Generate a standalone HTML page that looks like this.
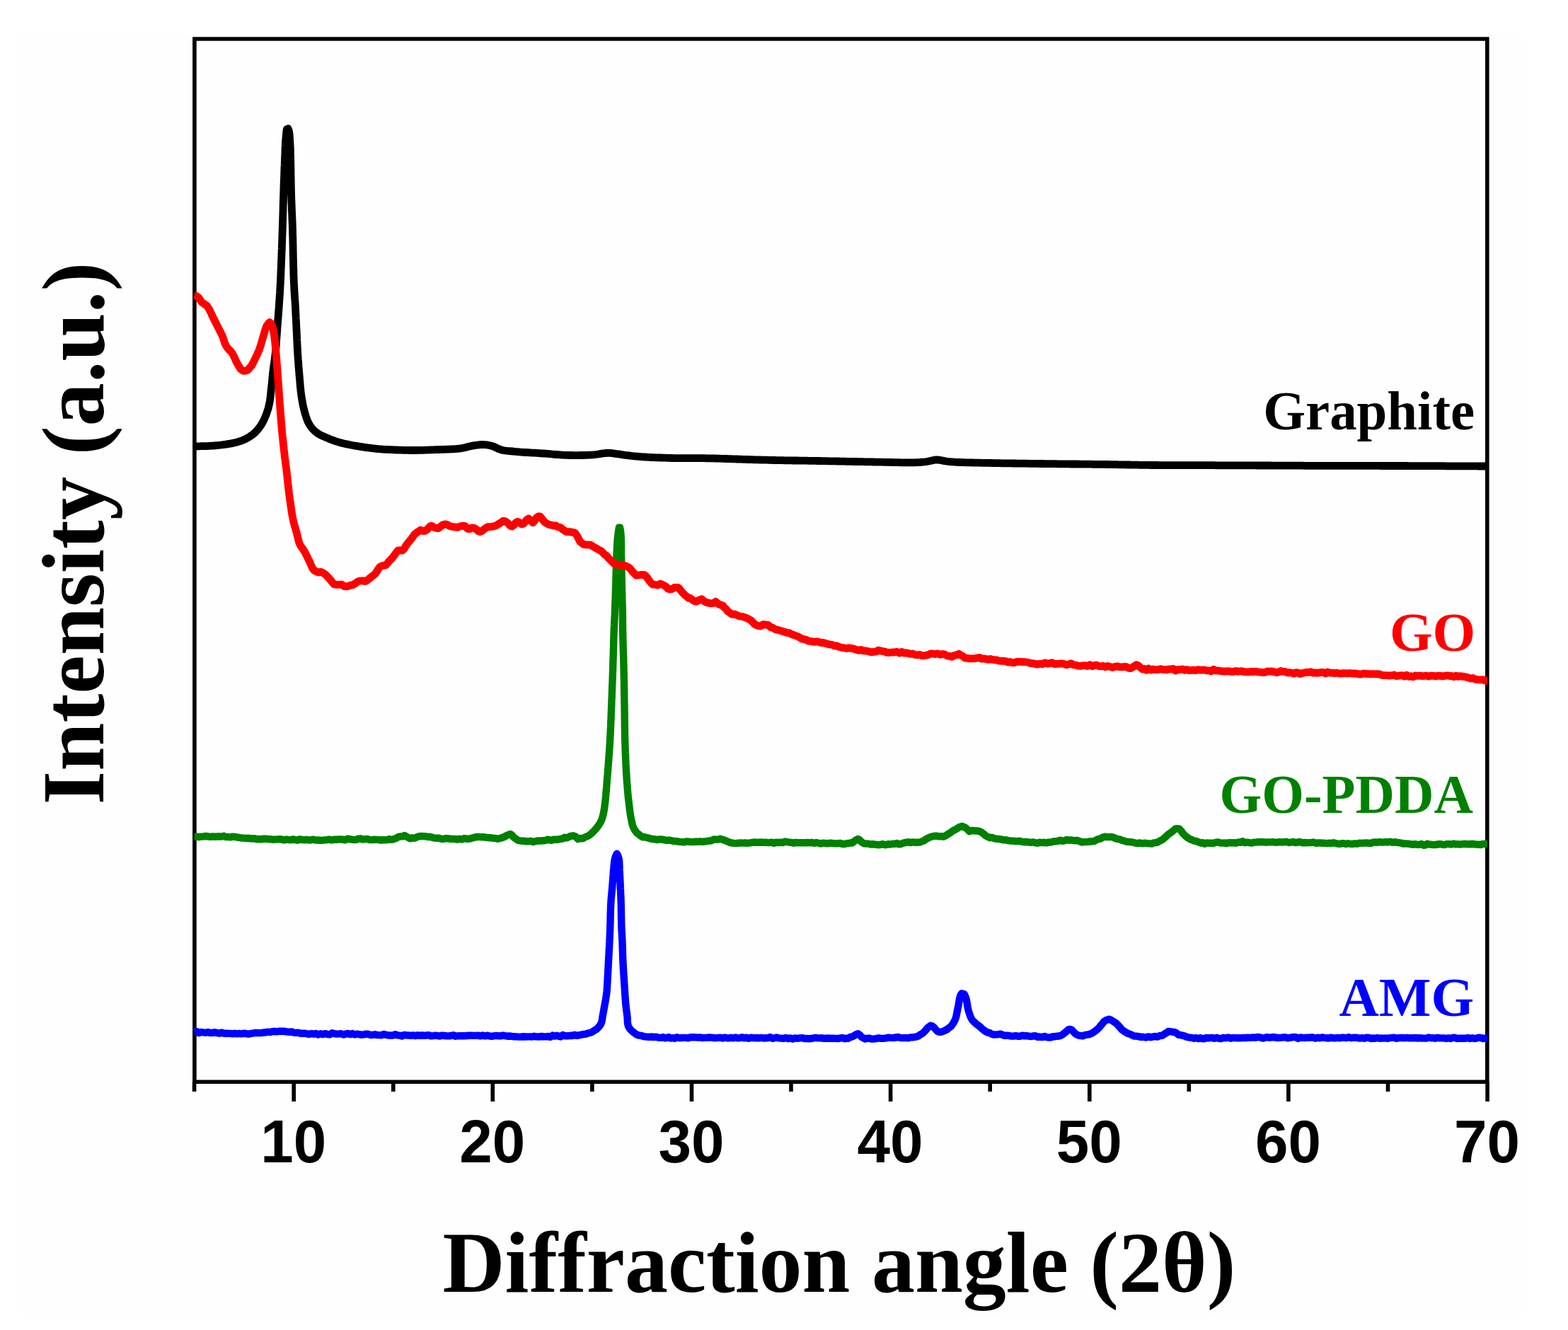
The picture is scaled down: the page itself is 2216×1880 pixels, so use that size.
<!DOCTYPE html>
<html><head><meta charset="utf-8"><title>XRD patterns</title>
<style>
html,body{margin:0;padding:0;background:#fff;}
svg{display:block;}
.tl{font-family:"Liberation Sans",Arial,sans-serif;font-weight:bold;font-size:86px;fill:#000;}
.ttl{font-family:"Liberation Serif","Times New Roman",serif;font-weight:bold;font-size:122px;fill:#000;}
.lg{font-family:"Liberation Serif","Times New Roman",serif;font-weight:bold;font-size:78px;}
</style></head><body>
<svg width="2216" height="1880" viewBox="0 0 2216 1880">
<rect x="0" y="0" width="2216" height="1880" fill="#ffffff"/>
<rect x="27" y="49" width="2126" height="1810" fill="#fefefe"/>
<path d="M274.9 1529.3V55H2101.8V1529.3Z" fill="none" stroke="#000" stroke-width="5.6"/>
<path d="M274.6 1529.5V1543M415.2 1529.5V1557M555.8 1529.5V1543M696.3 1529.5V1557M836.9 1529.5V1543M977.5 1529.5V1557M1118.0 1529.5V1543M1258.6 1529.5V1557M1399.2 1529.5V1543M1539.8 1529.5V1557M1680.3 1529.5V1543M1820.9 1529.5V1557M1961.5 1529.5V1543M2102.1 1529.5V1557" stroke="#000" stroke-width="5.6"/>
<path d="M274.6 631.0L277.0 630.9L281.5 630.8L284.6 630.7L288.1 630.7L291.8 630.6L295.5 630.4L299.1 630.2L302.5 630.0L305.7 629.7L309.0 629.4L312.3 629.0L315.6 628.6L318.8 628.2L322.0 627.7L325.1 627.2L328.0 626.6L331.7 625.8L335.2 624.9L338.6 623.9L341.8 622.8L345.0 621.5L347.9 620.1L350.8 618.5L353.5 616.8L356.1 615.0L358.6 613.0L360.9 610.9L363.1 608.6L365.1 606.2L367.0 603.7L368.8 601.1L370.4 598.5L371.8 595.9L373.2 593.2L374.4 590.4L375.6 587.5L376.8 584.3L377.9 581.0L379.0 577.6L379.9 574.1L380.7 570.5L381.3 567.3L381.8 563.9L382.2 560.6L382.6 557.2L382.9 553.7L383.3 550.1L383.6 547.1L384.0 543.9L384.3 540.7L384.6 537.5L384.9 534.3L385.2 531.0L385.5 527.8L385.9 524.6L386.3 521.4L386.7 518.3L387.2 515.2L387.6 512.0L388.1 508.9L388.5 505.7L388.9 502.4L389.3 499.0L389.6 496.1L389.8 493.1L390.1 490.1L390.3 487.0L390.5 483.9L390.7 480.7L390.9 477.6L391.2 474.4L391.4 471.2L391.6 468.1L391.8 465.0L392.0 461.9L392.3 458.8L392.5 455.7L392.8 452.6L393.0 449.5L393.3 446.3L393.5 443.2L393.7 440.2L394.0 437.1L394.2 434.0L394.4 431.0L394.6 427.9L394.8 424.9L395.0 422.0L395.2 419.2L395.4 416.3L395.6 413.3L395.7 410.3L395.9 407.1L396.1 403.7L396.3 400.0L396.4 397.6L396.5 395.1L396.7 392.5L396.8 389.7L396.9 386.9L397.0 384.0L397.1 381.0L397.3 377.9L397.4 374.8L397.5 371.6L397.6 368.4L397.8 365.1L397.9 361.8L398.0 358.6L398.1 355.3L398.3 352.0L398.4 348.8L398.5 345.5L398.6 342.4L398.7 339.2L398.8 336.1L398.9 333.1L399.0 330.2L399.1 327.4L399.2 324.6L399.3 322.0L399.4 318.5L399.5 315.1L399.6 311.8L399.7 308.6L399.8 305.5L399.9 302.4L400.0 299.4L400.1 296.4L400.1 293.4L400.2 290.4L400.3 287.3L400.4 284.2L400.5 281.0L400.6 277.8L400.7 274.8L400.8 271.7L400.9 268.6L401.0 265.4L401.1 262.2L401.2 258.9L401.3 255.7L401.5 252.4L401.6 249.1L401.7 245.9L401.8 242.7L401.9 239.6L402.0 236.5L402.2 233.5L402.3 230.6L402.4 227.7L402.5 225.0L402.6 221.6L402.8 218.3L402.9 215.0L403.0 211.8L403.1 208.8L403.3 205.8L403.4 202.9L403.6 200.1L403.8 197.5L404.0 195.0L404.4 190.5L404.8 186.0L405.3 182.5L407.0 181.9L408.0 184.0L408.6 186.2L409.0 188.9L409.3 192.1L409.5 195.8L409.8 200.0L409.9 202.0L410.0 204.3L410.2 206.8L410.3 209.4L410.4 212.2L410.4 215.1L410.5 218.1L410.6 221.3L410.7 224.6L410.7 228.0L410.8 231.4L410.9 234.9L410.9 238.4L411.0 241.9L411.0 245.4L411.1 249.0L411.2 252.5L411.2 255.9L411.3 259.4L411.3 262.7L411.4 266.0L411.5 269.1L411.5 272.1L411.6 275.0L411.7 277.8L411.8 281.3L411.9 284.7L412.1 287.9L412.2 291.0L412.3 294.0L412.4 297.0L412.5 299.9L412.7 302.8L412.8 305.8L412.9 308.8L413.0 311.9L413.2 315.1L413.3 318.5L413.4 322.0L413.5 324.6L413.6 327.4L413.6 330.2L413.7 333.1L413.8 336.1L413.9 339.2L413.9 342.4L414.0 345.5L414.1 348.8L414.1 352.0L414.2 355.3L414.3 358.6L414.3 361.8L414.4 365.1L414.5 368.4L414.6 371.6L414.6 374.8L414.7 377.9L414.8 381.0L414.9 384.0L414.9 386.9L415.0 389.7L415.1 392.5L415.2 395.1L415.3 397.6L415.4 400.0L415.6 403.7L415.8 407.1L415.9 410.3L416.1 413.3L416.3 416.3L416.5 419.2L416.7 422.0L416.9 424.9L417.1 427.9L417.3 431.0L417.5 434.0L417.6 437.1L417.8 440.2L417.9 443.2L418.1 446.3L418.2 449.5L418.4 452.6L418.5 455.7L418.7 458.8L418.8 461.9L419.0 465.0L419.2 468.1L419.3 471.2L419.4 474.3L419.6 477.4L419.7 480.5L419.9 483.5L420.0 486.6L420.2 489.7L420.3 492.8L420.5 495.9L420.7 499.0L420.9 502.1L421.1 505.2L421.3 508.4L421.6 511.6L421.8 514.7L422.0 517.9L422.3 521.0L422.5 524.1L422.8 527.1L423.0 530.1L423.3 533.0L423.6 536.4L423.9 539.7L424.1 543.0L424.4 546.2L424.7 549.3L425.0 552.4L425.4 555.5L425.8 558.6L426.3 561.9L426.8 565.1L427.4 568.3L427.9 571.5L428.6 574.6L429.3 577.7L430.1 580.7L431.0 584.0L432.0 587.3L433.0 590.5L434.2 593.7L435.4 596.6L436.9 599.4L438.6 602.1L440.5 604.7L442.5 607.0L444.7 609.2L447.1 611.3L449.6 613.0L452.3 614.6L455.2 616.0L458.2 617.3L461.2 618.6L464.1 619.8L467.4 621.2L470.7 622.4L474.0 623.6L477.4 624.6L481.1 625.7L484.0 626.5L487.1 627.2L490.3 627.9L493.5 628.5L496.8 629.2L500.1 629.8L503.4 630.3L506.6 630.9L509.8 631.4L512.9 631.9L516.1 632.4L519.3 632.8L522.4 633.2L525.6 633.6L528.9 634.0L532.1 634.3L535.1 634.6L538.2 634.8L541.3 635.1L544.5 635.3L547.6 635.4L550.7 635.6L553.8 635.7L556.9 635.9L560.0 636.0L563.3 636.1L566.6 636.2L569.8 636.3L573.1 636.4L576.3 636.4L579.5 636.5L582.8 636.5L586.0 636.5L589.2 636.5L592.4 636.4L595.5 636.4L598.7 636.3L601.9 636.2L605.1 636.1L608.5 635.9L612.0 635.8L614.8 635.7L617.7 635.6L620.8 635.5L623.9 635.4L627.1 635.3L630.3 635.2L633.6 635.1L636.7 634.9L639.9 634.8L642.9 634.6L645.8 634.4L648.5 634.1L651.0 633.8L654.4 633.2L657.6 632.6L660.5 631.8L663.3 631.1L666.1 630.4L669.0 629.9L672.2 629.4L675.4 629.0L678.6 628.7L681.7 628.5L684.7 628.6L688.1 628.9L691.4 629.5L694.6 630.3L697.7 631.2L701.1 632.7L704.3 634.4L708.0 635.8L710.9 636.5L714.1 637.0L717.5 637.4L721.1 637.7L724.9 638.0L728.8 638.4L731.4 638.6L734.2 638.9L737.0 639.1L740.0 639.3L743.0 639.5L746.1 639.7L749.3 639.9L752.4 640.1L755.6 640.2L758.7 640.4L761.8 640.6L764.9 640.8L767.8 641.0L771.0 641.2L774.1 641.5L777.2 641.7L780.2 642.0L783.3 642.3L786.3 642.5L789.3 642.7L792.4 643.0L795.4 643.1L798.5 643.3L801.6 643.4L804.6 643.5L807.7 643.5L810.8 643.6L814.0 643.6L817.2 643.6L820.4 643.5L823.5 643.5L826.6 643.4L829.6 643.3L832.5 643.2L835.3 643.1L838.0 642.9L841.8 642.5L845.5 642.0L849.0 641.4L852.4 640.9L855.6 640.5L858.7 640.3L862.1 640.4L865.1 640.7L868.2 641.1L871.7 641.6L874.5 641.9L877.4 642.4L880.4 642.8L883.6 643.3L886.9 643.7L890.4 644.2L894.0 644.6L897.7 645.0L900.3 645.2L903.0 645.4L905.8 645.6L908.7 645.8L911.7 646.0L914.7 646.2L917.8 646.3L920.9 646.5L924.1 646.6L927.3 646.8L930.6 646.9L933.8 647.0L937.0 647.1L940.2 647.2L943.4 647.3L946.5 647.4L949.6 647.5L952.7 647.6L955.7 647.6L958.8 647.7L961.8 647.7L964.9 647.7L967.9 647.7L971.0 647.7L974.1 647.7L977.1 647.7L980.2 647.7L983.2 647.7L986.3 647.7L989.4 647.7L992.4 647.7L995.5 647.7L998.5 647.8L1001.6 647.8L1004.7 647.9L1007.8 647.9L1010.9 648.0L1014.0 648.1L1017.1 648.2L1020.3 648.3L1023.4 648.4L1026.6 648.5L1029.7 648.6L1032.8 648.7L1035.9 648.8L1038.9 648.9L1041.9 649.0L1044.9 649.1L1047.8 649.2L1050.7 649.3L1053.5 649.4L1056.7 649.5L1059.8 649.6L1062.8 649.7L1065.6 649.8L1068.5 649.8L1071.3 649.9L1074.1 650.0L1077.1 650.1L1080.1 650.2L1083.2 650.2L1086.5 650.3L1090.0 650.4L1092.5 650.5L1095.0 650.5L1097.7 650.6L1100.4 650.6L1103.2 650.7L1106.0 650.7L1108.9 650.8L1111.8 650.8L1114.8 650.9L1117.9 650.9L1120.9 651.0L1124.0 651.0L1127.2 651.0L1130.3 651.1L1133.5 651.1L1136.7 651.2L1139.9 651.2L1143.0 651.3L1146.2 651.3L1149.4 651.4L1152.6 651.4L1155.7 651.5L1158.8 651.5L1161.9 651.6L1165.0 651.6L1168.0 651.7L1171.1 651.8L1174.3 651.8L1177.5 651.9L1180.7 651.9L1183.9 652.0L1187.1 652.1L1190.3 652.1L1193.6 652.2L1196.8 652.3L1200.1 652.3L1203.3 652.4L1206.5 652.5L1209.7 652.5L1212.9 652.6L1216.1 652.6L1219.2 652.7L1222.4 652.8L1225.4 652.8L1228.5 652.9L1231.5 652.9L1234.5 653.0L1237.4 653.1L1240.2 653.1L1243.1 653.2L1245.8 653.2L1249.3 653.3L1252.8 653.3L1256.3 653.4L1259.7 653.5L1263.1 653.6L1266.5 653.6L1269.7 653.7L1273.0 653.8L1276.1 653.8L1279.1 653.9L1282.1 653.9L1284.9 653.9L1287.6 653.9L1290.2 653.9L1292.6 653.8L1296.7 653.6L1300.3 653.5L1303.6 653.2L1306.8 652.9L1310.0 652.5L1313.6 651.8L1317.0 651.0L1320.4 650.2L1323.8 649.9L1327.1 650.1L1330.4 650.7L1333.7 651.4L1337.0 652.0L1340.0 652.4L1342.8 652.7L1345.9 652.9L1349.7 653.2L1351.8 653.3L1354.1 653.4L1356.6 653.5L1359.3 653.6L1362.1 653.7L1365.0 653.8L1368.1 653.9L1371.2 653.9L1374.5 654.0L1377.8 654.1L1381.2 654.1L1384.6 654.2L1388.0 654.3L1391.4 654.3L1394.9 654.4L1398.3 654.4L1401.7 654.5L1404.5 654.6L1407.4 654.6L1410.3 654.7L1413.3 654.7L1416.3 654.8L1419.3 654.8L1422.4 654.9L1425.5 654.9L1428.6 654.9L1431.7 655.0L1434.9 655.0L1438.1 655.1L1441.3 655.1L1444.5 655.2L1447.7 655.2L1450.9 655.2L1454.1 655.3L1457.3 655.3L1460.6 655.4L1463.8 655.4L1467.0 655.4L1470.2 655.5L1473.3 655.5L1476.5 655.6L1479.6 655.6L1482.7 655.6L1485.8 655.7L1489.0 655.7L1492.1 655.7L1495.2 655.8L1498.4 655.8L1501.5 655.8L1504.6 655.9L1507.8 655.9L1510.9 655.9L1514.0 656.0L1517.2 656.0L1520.3 656.0L1523.4 656.0L1526.5 656.1L1529.7 656.1L1532.8 656.1L1535.9 656.2L1539.0 656.2L1542.1 656.2L1545.2 656.3L1548.3 656.3L1551.4 656.3L1554.4 656.4L1557.5 656.4L1560.6 656.4L1563.6 656.5L1566.6 656.5L1569.6 656.6L1572.5 656.6L1575.5 656.7L1578.4 656.7L1581.3 656.8L1584.2 656.8L1587.2 656.9L1590.1 656.9L1593.0 657.0L1596.0 657.0L1598.9 657.1L1601.9 657.1L1604.9 657.2L1607.9 657.2L1610.9 657.3L1614.0 657.3L1617.1 657.4L1620.3 657.4L1623.5 657.4L1626.7 657.5L1630.0 657.5L1632.8 657.5L1635.6 657.5L1638.5 657.6L1641.3 657.6L1644.2 657.6L1647.2 657.6L1650.1 657.6L1653.1 657.6L1656.1 657.7L1659.1 657.7L1662.1 657.7L1665.2 657.7L1668.3 657.7L1671.4 657.7L1674.5 657.7L1677.6 657.7L1680.7 657.7L1683.8 657.7L1687.0 657.7L1690.1 657.7L1693.3 657.7L1696.5 657.7L1699.7 657.7L1702.8 657.7L1706.0 657.7L1709.2 657.7L1712.4 657.7L1715.6 657.7L1718.8 657.8L1722.0 657.8L1725.1 657.8L1728.3 657.8L1731.5 657.8L1734.6 657.8L1737.8 657.8L1740.8 657.8L1743.7 657.8L1746.7 657.8L1749.7 657.8L1752.7 657.9L1755.6 657.9L1758.6 657.9L1761.6 657.9L1764.6 657.9L1767.7 657.9L1770.7 657.9L1773.7 657.9L1776.7 658.0L1779.7 658.0L1782.8 658.0L1785.8 658.0L1788.8 658.0L1791.9 658.0L1794.9 658.0L1797.9 658.1L1801.0 658.1L1804.0 658.1L1807.1 658.1L1810.1 658.1L1813.2 658.1L1816.2 658.1L1819.3 658.2L1822.3 658.2L1825.3 658.2L1828.4 658.2L1831.4 658.2L1834.5 658.2L1837.5 658.2L1840.5 658.2L1843.6 658.3L1846.6 658.3L1849.6 658.3L1852.7 658.3L1855.7 658.3L1858.7 658.3L1861.7 658.3L1864.7 658.3L1867.8 658.3L1870.8 658.3L1873.8 658.3L1876.8 658.4L1879.8 658.4L1882.8 658.4L1885.8 658.4L1888.8 658.4L1891.8 658.4L1894.8 658.4L1897.8 658.4L1900.8 658.4L1903.8 658.4L1906.8 658.4L1909.8 658.4L1912.8 658.4L1915.8 658.4L1918.8 658.4L1921.8 658.4L1924.8 658.4L1927.8 658.4L1930.8 658.4L1933.9 658.4L1936.9 658.4L1939.9 658.4L1942.9 658.4L1946.0 658.4L1949.0 658.4L1952.0 658.5L1955.1 658.5L1958.1 658.5L1961.2 658.5L1964.3 658.5L1967.3 658.5L1970.4 658.5L1973.5 658.5L1976.5 658.5L1979.5 658.5L1982.5 658.5L1985.5 658.5L1988.5 658.5L1991.6 658.6L1994.6 658.6L1997.6 658.6L2000.7 658.6L2003.7 658.6L2006.8 658.6L2009.8 658.6L2012.9 658.6L2015.9 658.6L2019.0 658.7L2022.0 658.7L2025.1 658.7L2028.2 658.7L2031.3 658.7L2034.3 658.7L2037.4 658.7L2040.5 658.7L2043.6 658.8L2046.6 658.8L2049.7 658.8L2052.8 658.8L2055.9 658.8L2059.0 658.8L2062.0 658.8L2065.1 658.8L2068.2 658.9L2071.3 658.9L2074.4 658.9L2077.4 658.9L2080.5 658.9L2083.6 658.9L2086.7 658.9L2089.7 659.0L2092.8 659.0L2095.9 659.0L2098.9 659.0L2102.0 659.0" fill="none" stroke="#000000" stroke-width="10.8" stroke-linejoin="round" stroke-linecap="butt"/>
<path d="M274.6 1182.9L277.8 1182.7L281.1 1183.0L284.3 1182.6L287.5 1182.4L290.8 1182.0L294.0 1182.3L297.2 1182.8L300.5 1182.4L303.8 1182.7L307.1 1182.4L310.4 1182.5L313.4 1182.5L316.4 1181.8L319.4 1183.1L322.5 1183.1L325.5 1183.4L328.5 1182.6L331.6 1182.8L334.7 1183.5L337.9 1183.9L341.0 1184.5L344.2 1184.6L347.5 1185.0L350.8 1184.7L353.8 1185.3L356.8 1185.5L359.8 1185.1L362.9 1186.3L366.1 1186.0L369.2 1186.4L372.4 1185.7L375.6 1185.7L378.9 1186.0L382.1 1186.2L385.4 1186.7L388.6 1186.6L391.9 1186.4L395.1 1186.2L398.3 1186.5L401.5 1187.4L404.7 1186.5L407.9 1187.1L411.0 1187.2L414.2 1186.4L417.4 1187.1L420.6 1187.7L423.7 1186.3L426.9 1187.0L430.1 1187.2L433.2 1186.9L436.4 1187.5L439.6 1187.2L442.8 1186.6L445.9 1187.6L449.1 1187.5L452.3 1187.7L455.4 1187.9L458.6 1187.4L461.8 1187.2L465.0 1186.6L468.2 1187.4L471.4 1186.8L474.7 1186.8L477.9 1186.4L481.1 1186.5L484.4 1186.6L487.6 1187.4L490.8 1185.8L494.0 1186.0L497.1 1186.7L500.3 1187.2L503.4 1186.8L506.4 1185.6L509.4 1185.3L512.4 1186.6L515.7 1186.1L519.1 1185.9L522.4 1187.0L525.8 1187.1L529.1 1186.8L532.3 1186.9L535.5 1187.1L538.7 1187.7L541.7 1187.2L544.7 1187.2L547.5 1187.1L550.2 1186.0L552.8 1187.0L556.5 1186.1L560.0 1184.9L563.2 1182.8L566.3 1182.4L569.1 1182.3L571.7 1181.0L575.8 1183.3L579.8 1185.4L582.6 1184.3L585.7 1184.8L588.9 1183.4L592.4 1182.2L595.9 1181.9L598.7 1182.1L601.5 1182.2L604.4 1183.0L607.3 1182.8L610.4 1183.5L613.6 1184.6L616.8 1184.7L620.2 1184.6L623.0 1185.6L626.1 1186.0L629.3 1185.3L632.6 1185.1L636.0 1185.8L639.4 1185.9L642.8 1185.9L646.2 1186.7L649.4 1185.6L652.6 1186.6L655.5 1185.3L658.2 1185.4L660.6 1185.9L664.3 1185.5L667.4 1184.6L670.4 1183.6L674.0 1183.0L676.6 1182.9L679.6 1183.2L682.9 1183.1L686.3 1183.6L689.8 1184.1L693.4 1184.2L697.0 1184.9L700.4 1185.0L703.6 1185.8L706.5 1185.0L709.0 1184.3L712.6 1183.0L715.7 1181.2L718.5 1179.9L721.2 1179.0L723.5 1180.4L725.4 1182.9L727.6 1184.7L730.6 1186.8L732.5 1187.9L734.8 1188.4L737.4 1188.7L740.3 1188.7L743.4 1189.3L746.7 1189.2L750.1 1188.8L753.6 1190.1L757.1 1189.1L760.6 1188.5L764.1 1188.5L767.6 1188.2L770.8 1188.1L773.9 1186.6L776.8 1187.4L779.5 1187.8L781.8 1186.7L785.8 1186.7L789.5 1186.5L792.8 1185.7L795.6 1185.5L797.9 1183.7L800.9 1184.4L803.5 1183.3L806.6 1181.8L809.5 1181.3L813.1 1182.3L816.8 1186.0L820.2 1185.0L823.8 1185.2L827.3 1183.1L830.7 1181.9L834.0 1179.8L837.0 1176.9L839.8 1174.2L842.4 1171.4L844.7 1168.3L846.7 1165.5L848.5 1162.6L850.0 1159.6L851.1 1156.5L852.0 1153.4L852.8 1150.0L853.4 1146.8L854.0 1143.6L854.5 1140.0L855.0 1136.0L855.3 1133.4L855.6 1130.7L855.9 1127.8L856.2 1124.7L856.4 1121.5L856.7 1118.2L857.0 1114.9L857.3 1111.4L857.5 1107.9L857.8 1104.4L858.1 1100.9L858.3 1098.1L858.6 1095.2L858.8 1092.2L859.0 1089.2L859.3 1086.2L859.5 1083.1L859.8 1080.0L860.0 1076.8L860.3 1073.6L860.5 1070.4L860.7 1067.2L861.0 1064.0L861.2 1060.8L861.4 1057.6L861.6 1054.5L861.8 1051.3L862.0 1048.2L862.2 1045.1L862.3 1042.0L862.5 1038.9L862.7 1035.8L862.8 1032.7L862.9 1029.6L863.1 1026.5L863.2 1023.4L863.3 1020.2L863.5 1017.1L863.6 1014.0L863.7 1010.9L863.8 1007.8L863.9 1004.7L864.1 1001.6L864.2 998.5L864.3 995.4L864.4 992.3L864.5 989.2L864.7 986.1L864.8 983.0L864.9 979.9L865.0 976.8L865.1 973.7L865.2 970.6L865.3 967.5L865.5 964.4L865.6 961.3L865.7 958.2L865.8 955.1L865.9 952.0L866.0 948.9L866.1 945.8L866.2 942.7L866.3 939.6L866.4 936.4L866.5 933.1L866.6 929.9L866.7 926.6L866.8 923.3L866.9 920.0L867.0 916.7L867.1 913.5L867.2 910.2L867.2 907.1L867.3 904.0L867.4 901.0L867.5 898.1L867.6 895.3L867.7 892.6L867.8 890.0L867.9 886.6L868.1 883.5L868.2 880.5L868.4 877.7L868.5 875.0L868.6 872.2L868.8 869.2L868.9 866.0L869.0 863.2L869.1 860.3L869.2 857.3L869.3 854.3L869.4 851.2L869.6 848.1L869.7 844.9L869.8 841.7L869.9 838.4L870.0 835.2L870.1 831.9L870.2 828.6L870.3 825.6L870.4 822.5L870.5 819.3L870.5 816.1L870.6 812.8L870.7 809.5L870.8 806.3L870.9 803.0L871.0 799.7L871.1 796.5L871.2 793.4L871.3 790.3L871.4 787.3L871.5 784.5L871.6 781.8L871.8 778.3L871.9 774.8L872.1 771.6L872.3 768.4L872.5 765.3L872.7 762.4L873.0 759.6L873.3 757.0L873.8 753.0L874.4 748.9L874.9 745.8L876.1 745.8L876.7 748.9L877.2 753.0L877.6 757.0L877.8 759.6L877.9 762.4L878.0 765.3L878.0 768.4L878.0 771.6L878.0 774.9L878.0 778.3L878.0 781.8L878.0 784.5L878.1 787.3L878.2 790.3L878.2 793.4L878.3 796.5L878.3 799.7L878.4 803.0L878.4 806.3L878.5 809.6L878.6 812.8L878.6 816.1L878.7 819.3L878.8 822.5L878.8 825.6L878.9 828.6L879.0 831.9L879.1 835.2L879.2 838.4L879.3 841.7L879.3 844.9L879.4 848.1L879.5 851.2L879.6 854.3L879.7 857.3L879.8 860.3L879.8 863.2L879.9 866.0L879.9 869.2L880.0 872.2L880.0 875.0L880.0 877.7L880.0 880.6L880.0 883.5L880.0 886.6L880.1 890.0L880.1 892.6L880.2 895.3L880.3 898.1L880.3 901.0L880.4 904.0L880.5 907.1L880.6 910.2L880.7 913.5L880.8 916.7L880.9 920.0L881.0 923.3L881.1 926.6L881.2 929.9L881.3 933.1L881.3 936.4L881.4 939.6L881.5 942.7L881.6 945.8L881.6 948.9L881.7 952.0L881.8 955.1L881.8 958.2L881.9 961.3L882.0 964.4L882.0 967.5L882.1 970.6L882.1 973.7L882.2 976.8L882.2 979.9L882.3 983.0L882.3 986.1L882.4 989.2L882.4 992.3L882.5 995.4L882.5 998.5L882.6 1001.6L882.6 1004.7L882.7 1007.8L882.7 1010.9L882.7 1014.0L882.8 1017.1L882.8 1020.2L882.8 1023.4L882.9 1026.5L882.9 1029.6L883.0 1032.7L883.0 1035.8L883.1 1038.9L883.1 1042.0L883.2 1045.1L883.3 1048.2L883.4 1051.3L883.5 1054.5L883.6 1057.6L883.7 1060.8L883.8 1064.0L884.0 1067.2L884.1 1070.4L884.2 1073.6L884.4 1076.8L884.5 1080.0L884.7 1083.1L884.8 1086.2L885.0 1089.2L885.2 1092.2L885.3 1095.2L885.5 1098.1L885.7 1100.9L885.9 1104.4L886.2 1107.8L886.5 1111.2L886.8 1114.6L887.0 1117.8L887.3 1121.1L887.6 1124.2L887.9 1127.3L888.3 1130.3L888.6 1133.2L888.9 1136.0L889.3 1139.3L889.7 1142.6L890.0 1145.7L890.5 1148.7L890.9 1151.6L891.4 1154.4L891.9 1157.1L892.7 1160.9L893.4 1164.6L894.5 1168.0L895.9 1171.2L897.7 1174.2L899.9 1177.2L902.5 1179.1L905.6 1181.7L908.2 1183.2L911.4 1183.3L915.0 1184.2L918.7 1185.3L922.3 1186.1L925.5 1186.2L928.2 1187.1L931.0 1186.6L933.8 1186.3L936.2 1186.6L939.1 1187.4L942.5 1187.9L946.2 1187.6L949.9 1188.6L953.7 1189.0L957.4 1189.3L960.3 1189.9L963.3 1190.1L966.5 1190.4L969.7 1189.5L973.1 1189.6L976.4 1190.1L979.8 1190.0L983.2 1189.8L986.5 1189.8L989.7 1189.4L992.8 1189.9L995.7 1189.5L998.5 1189.2L1002.1 1188.5L1005.5 1188.2L1008.8 1186.5L1012.0 1186.6L1015.0 1186.6L1017.8 1185.7L1020.5 1186.6L1024.2 1187.8L1027.5 1189.1L1031.5 1191.0L1033.9 1191.3L1036.6 1191.9L1039.5 1192.1L1042.6 1191.8L1045.8 1191.4L1049.2 1191.6L1052.7 1191.5L1056.3 1191.7L1059.9 1191.4L1063.5 1190.8L1067.1 1190.5L1069.9 1190.9L1072.7 1190.7L1075.6 1190.5L1078.5 1190.9L1081.5 1190.7L1084.5 1191.0L1087.6 1191.1L1090.6 1190.6L1093.8 1191.8L1096.9 1190.6L1100.0 1191.2L1103.2 1190.7L1106.3 1191.1L1109.5 1189.5L1112.6 1190.2L1115.7 1190.7L1118.8 1190.9L1121.9 1191.7L1125.0 1190.8L1128.1 1191.3L1131.3 1191.1L1134.5 1191.3L1137.7 1191.2L1140.9 1191.0L1144.1 1191.4L1147.3 1190.8L1150.5 1191.9L1153.7 1191.0L1156.8 1191.7L1159.9 1192.6L1162.9 1191.7L1165.9 1191.9L1168.7 1192.4L1171.5 1192.0L1174.2 1191.6L1176.8 1192.1L1180.4 1192.3L1183.8 1192.4L1187.3 1191.8L1190.6 1193.0L1193.7 1193.0L1196.7 1192.2L1199.4 1192.1L1202.0 1191.4L1204.2 1191.6L1207.4 1189.1L1209.9 1187.4L1212.4 1186.0L1214.8 1187.2L1217.3 1189.9L1220.7 1192.2L1224.9 1192.6L1227.6 1192.6L1230.5 1193.5L1233.6 1193.3L1237.0 1193.6L1240.5 1194.2L1244.1 1194.0L1247.7 1193.2L1251.4 1194.4L1255.0 1193.3L1258.4 1193.5L1261.8 1192.8L1264.9 1192.9L1267.8 1192.0L1270.4 1193.4L1272.7 1193.1L1276.8 1191.6L1280.1 1190.9L1283.2 1190.3L1286.5 1191.1L1290.0 1190.4L1293.6 1190.8L1297.1 1190.8L1300.7 1190.4L1303.4 1189.1L1306.1 1188.1L1308.8 1186.0L1311.5 1184.7L1314.2 1183.4L1317.0 1182.5L1320.2 1181.8L1323.5 1181.6L1326.9 1182.4L1330.2 1182.2L1333.4 1182.7L1336.2 1181.3L1339.1 1179.5L1341.9 1177.8L1344.6 1175.9L1347.2 1174.2L1349.7 1172.9L1353.3 1170.7L1356.7 1168.7L1360.0 1167.9L1362.5 1169.2L1364.9 1170.3L1367.5 1172.7L1370.2 1175.3L1373.6 1173.9L1377.3 1174.3L1381.0 1174.5L1384.5 1175.1L1387.5 1176.7L1390.2 1178.8L1393.1 1181.3L1396.7 1183.1L1399.1 1184.2L1401.8 1183.8L1404.7 1184.9L1407.8 1185.8L1411.0 1185.9L1414.4 1186.3L1417.8 1187.4L1421.3 1187.2L1424.7 1188.1L1428.2 1188.5L1431.5 1188.6L1434.5 1189.0L1437.6 1189.1L1440.7 1188.8L1443.8 1189.7L1447.0 1190.2L1450.1 1190.0L1453.3 1190.4L1456.5 1191.0L1459.7 1190.4L1462.9 1191.2L1466.1 1191.8L1469.2 1190.8L1472.4 1191.1L1475.6 1190.8L1478.8 1191.4L1482.0 1190.6L1485.3 1190.5L1488.6 1189.4L1491.8 1189.3L1495.1 1188.9L1498.3 1187.7L1501.4 1188.8L1504.5 1188.3L1507.5 1186.9L1510.4 1187.8L1513.2 1187.4L1516.6 1187.9L1519.8 1188.3L1522.9 1188.0L1525.9 1189.2L1528.8 1190.5L1531.8 1190.1L1534.7 1190.1L1537.8 1189.9L1540.7 1189.5L1543.6 1189.4L1546.5 1188.9L1549.4 1187.2L1552.3 1186.0L1555.3 1185.6L1558.3 1183.6L1561.3 1182.8L1564.3 1183.0L1567.2 1183.1L1570.2 1182.9L1573.2 1183.5L1576.2 1185.0L1579.2 1185.9L1582.3 1186.3L1585.4 1187.7L1588.5 1188.5L1591.7 1189.7L1595.0 1189.9L1598.0 1190.3L1601.2 1190.6L1604.4 1191.6L1607.8 1192.0L1611.2 1191.5L1614.6 1192.3L1618.0 1191.7L1621.4 1192.2L1624.6 1192.4L1627.7 1192.6L1630.7 1191.4L1633.4 1191.1L1635.9 1190.6L1639.2 1188.6L1642.2 1187.3L1644.8 1185.1L1647.3 1183.2L1649.7 1180.7L1652.2 1178.6L1655.4 1176.5L1658.5 1173.8L1661.5 1171.4L1664.5 1171.3L1666.9 1171.9L1669.2 1174.4L1671.5 1177.6L1674.0 1180.4L1676.8 1182.9L1679.3 1184.6L1682.0 1186.3L1684.8 1187.2L1687.7 1188.6L1690.8 1189.2L1693.9 1190.4L1697.2 1191.7L1700.0 1191.1L1702.7 1192.8L1705.6 1191.5L1708.4 1191.8L1711.4 1191.8L1714.5 1192.1L1717.8 1190.9L1721.2 1190.4L1724.8 1191.5L1728.6 1191.6L1730.9 1191.5L1733.4 1192.4L1736.0 1191.2L1738.6 1191.2L1741.3 1191.5L1744.1 1191.2L1747.0 1191.8L1750.0 1190.4L1753.0 1190.8L1756.1 1189.3L1759.2 1191.2L1762.4 1190.6L1765.6 1191.2L1768.9 1191.7L1772.1 1190.6L1775.4 1190.5L1778.8 1190.3L1782.1 1190.1L1785.5 1190.2L1788.8 1190.7L1792.2 1190.4L1795.5 1190.4L1798.8 1190.2L1802.1 1190.7L1805.4 1190.5L1808.6 1190.2L1811.8 1190.6L1815.0 1190.2L1818.1 1189.8L1821.2 1191.0L1824.3 1190.6L1827.5 1190.0L1830.6 1191.0L1833.8 1190.7L1837.0 1189.9L1840.2 1191.4L1843.4 1191.0L1846.6 1191.3L1849.8 1191.1L1853.0 1191.1L1856.2 1190.5L1859.4 1191.8L1862.6 1191.5L1865.8 1191.4L1869.0 1191.8L1872.1 1191.8L1875.2 1192.2L1878.4 1191.8L1881.4 1192.0L1884.5 1191.2L1887.5 1192.0L1890.5 1192.6L1893.4 1192.9L1896.3 1192.2L1899.2 1192.3L1902.0 1193.1L1904.8 1192.3L1907.5 1192.7L1911.0 1193.1L1914.5 1192.3L1917.9 1192.7L1921.3 1191.7L1924.6 1191.9L1927.9 1191.6L1931.1 1191.5L1934.3 1191.8L1937.4 1192.1L1940.5 1190.6L1943.6 1190.5L1946.6 1190.8L1949.6 1190.0L1952.6 1190.6L1955.5 1190.5L1958.3 1190.1L1961.2 1190.5L1964.7 1189.7L1967.9 1190.9L1971.0 1190.2L1974.0 1190.8L1976.9 1191.2L1979.9 1191.6L1982.9 1192.5L1986.1 1192.5L1989.4 1192.6L1993.1 1193.2L1997.0 1193.9L1999.3 1193.3L2001.6 1193.5L2004.0 1194.0L2006.5 1193.6L2009.1 1193.0L2011.7 1194.7L2014.5 1194.6L2017.2 1192.7L2020.1 1193.6L2023.0 1193.8L2025.9 1194.1L2028.9 1194.0L2031.9 1193.5L2035.0 1193.2L2038.1 1193.7L2041.3 1194.1L2044.5 1193.1L2047.6 1193.1L2050.9 1193.5L2054.1 1192.7L2057.3 1193.4L2060.6 1193.3L2063.9 1193.6L2067.1 1193.1L2070.4 1193.0L2073.6 1193.2L2076.9 1193.3L2080.1 1193.0L2083.3 1193.3L2086.5 1193.6L2089.7 1193.8L2092.8 1194.0L2095.9 1192.9L2099.0 1193.0L2102.0 1193.2" fill="none" stroke="#008000" stroke-width="10.4" stroke-linejoin="round" stroke-linecap="butt"/>
<path d="M274.6 1458.9L277.8 1457.9L281.1 1460.0L284.3 1458.9L287.5 1459.4L290.8 1459.8L294.0 1459.0L297.2 1460.0L300.5 1459.9L303.8 1459.2L307.1 1460.2L310.4 1460.7L313.4 1459.5L316.5 1460.8L319.5 1460.6L322.6 1460.8L325.6 1460.9L328.7 1461.4L331.8 1460.8L335.0 1461.4L338.1 1460.9L341.3 1461.4L344.4 1460.7L347.6 1461.0L350.8 1461.8L353.8 1461.1L356.8 1460.7L359.9 1460.0L363.0 1459.9L366.1 1460.1L369.2 1460.1L372.3 1459.5L375.5 1459.3L378.6 1458.7L381.7 1459.1L384.8 1458.1L387.8 1457.8L390.8 1458.3L393.7 1457.8L396.6 1457.7L399.9 1457.6L403.1 1458.0L406.3 1458.6L409.4 1458.8L412.4 1458.5L415.4 1459.6L418.5 1459.9L421.6 1459.7L424.8 1460.8L428.1 1460.7L431.6 1460.8L434.5 1461.5L437.4 1461.8L440.4 1461.0L443.5 1461.6L446.6 1461.0L449.8 1462.5L453.0 1461.2L456.2 1462.0L459.5 1461.1L462.7 1461.8L466.0 1462.4L469.3 1460.3L472.6 1461.2L475.8 1461.6L479.1 1461.4L482.3 1461.2L485.5 1462.5L488.7 1461.6L491.8 1460.9L495.0 1462.1L498.2 1461.0L501.4 1462.4L504.5 1461.7L507.7 1462.1L510.9 1462.7L514.0 1462.3L517.2 1461.7L520.4 1461.7L523.6 1463.0L526.7 1462.9L529.9 1462.3L533.1 1463.1L536.2 1463.1L539.4 1463.2L542.6 1461.9L545.7 1462.9L548.9 1463.5L552.1 1463.5L555.2 1463.6L558.4 1462.1L561.6 1463.4L564.7 1463.6L567.9 1464.5L571.0 1463.0L574.2 1463.3L577.4 1463.5L580.5 1463.9L583.7 1463.4L586.9 1464.1L590.0 1463.3L593.2 1463.8L596.4 1463.5L599.5 1463.8L602.7 1463.5L605.9 1463.1L609.0 1464.4L612.2 1464.1L615.4 1463.7L618.6 1464.1L621.7 1464.5L624.9 1463.6L628.1 1464.0L631.2 1464.3L634.4 1464.4L637.6 1464.0L640.8 1463.2L643.9 1464.7L647.1 1464.3L650.3 1464.2L653.4 1464.1L656.6 1464.3L659.8 1464.0L663.0 1463.7L666.1 1463.8L669.3 1463.9L672.5 1463.9L675.6 1463.6L678.8 1464.4L682.0 1463.5L685.2 1464.4L688.3 1463.7L691.5 1464.3L694.7 1464.8L697.8 1464.3L701.0 1463.9L704.2 1464.3L707.4 1464.4L710.6 1463.6L713.8 1464.2L717.1 1464.7L720.3 1464.5L723.5 1464.9L726.8 1465.3L730.0 1465.4L733.2 1465.6L736.4 1465.6L739.5 1465.3L742.7 1465.5L745.8 1465.4L748.8 1465.4L751.8 1465.5L754.8 1464.8L758.1 1465.4L761.5 1465.5L764.8 1465.0L768.2 1465.3L771.5 1465.4L774.7 1465.0L777.9 1465.9L781.0 1463.6L784.1 1464.6L787.1 1463.7L789.9 1464.9L792.7 1465.5L795.3 1463.1L799.0 1464.2L802.6 1464.3L805.9 1463.8L809.0 1464.1L812.1 1462.7L815.0 1463.9L818.3 1463.3L821.3 1462.7L824.3 1461.9L827.3 1461.8L830.5 1460.6L833.7 1460.0L836.8 1458.7L839.7 1456.7L842.6 1455.2L845.3 1452.6L847.7 1449.7L849.5 1446.7L850.6 1443.6L851.1 1440.3L851.6 1436.8L852.2 1433.8L852.8 1430.5L853.4 1427.2L854.0 1423.7L854.6 1420.4L855.2 1417.2L855.8 1414.0L856.3 1410.8L856.8 1407.5L857.3 1404.0L857.6 1401.2L857.8 1398.2L858.0 1395.1L858.2 1392.0L858.4 1388.8L858.6 1385.6L858.7 1382.4L858.9 1379.3L859.1 1376.2L859.2 1373.1L859.4 1370.0L859.6 1366.9L859.7 1363.9L859.9 1360.8L860.0 1357.7L860.2 1354.7L860.4 1351.4L860.6 1348.1L860.7 1344.9L860.9 1341.7L861.1 1338.4L861.2 1335.2L861.4 1332.0L861.5 1328.9L861.7 1325.8L861.8 1322.8L861.9 1319.7L862.1 1316.6L862.2 1313.4L862.3 1310.0L862.4 1307.0L862.5 1303.8L862.6 1300.5L862.6 1297.1L862.7 1293.7L862.8 1290.3L862.9 1286.9L863.0 1283.6L863.1 1280.3L863.3 1277.2L863.5 1273.9L863.7 1270.8L864.0 1267.7L864.3 1264.6L864.6 1261.6L864.9 1258.6L865.1 1255.6L865.4 1252.5L865.6 1249.4L865.9 1246.2L866.1 1243.0L866.3 1239.8L866.6 1236.7L866.8 1233.6L867.0 1230.7L867.3 1228.0L867.6 1224.1L868.0 1220.4L868.4 1217.0L869.0 1214.0L870.3 1209.6L871.8 1206.8L873.3 1209.5L874.6 1214.0L875.0 1216.7L875.3 1219.8L875.4 1223.1L875.5 1226.5L875.6 1230.0L875.8 1233.0L875.9 1236.1L876.1 1239.3L876.2 1242.6L876.4 1245.9L876.6 1249.2L876.7 1252.5L876.8 1255.5L877.0 1258.5L877.1 1261.5L877.2 1264.6L877.4 1267.6L877.5 1270.8L877.6 1273.9L877.7 1277.2L877.8 1280.3L877.9 1283.6L877.9 1286.9L878.0 1290.3L878.0 1293.7L878.1 1297.1L878.2 1300.5L878.2 1303.8L878.3 1307.0L878.4 1310.0L878.5 1313.4L878.7 1316.6L878.9 1319.7L879.0 1322.8L879.2 1325.8L879.4 1328.9L879.5 1332.0L879.6 1335.2L879.7 1338.4L879.8 1341.7L879.9 1344.9L880.0 1348.1L880.1 1351.4L880.2 1354.7L880.3 1357.7L880.5 1360.8L880.7 1363.9L880.8 1366.9L881.0 1370.0L881.2 1373.1L881.4 1376.2L881.6 1379.3L881.8 1382.4L882.0 1385.6L882.2 1388.8L882.4 1392.0L882.6 1395.1L882.8 1398.2L883.0 1401.2L883.2 1404.0L883.4 1407.5L883.6 1410.8L883.9 1414.0L884.1 1417.2L884.4 1420.4L884.8 1423.7L885.2 1427.0L885.6 1430.3L886.1 1433.6L886.5 1436.8L886.7 1440.5L886.9 1444.1L887.2 1447.6L888.1 1450.8L889.6 1453.5L891.6 1456.0L893.8 1458.0L896.3 1459.9L899.2 1462.1L902.3 1463.4L905.7 1463.8L909.5 1465.0L912.2 1465.4L914.9 1465.7L917.8 1465.7L920.8 1465.5L924.0 1466.0L927.4 1465.6L931.1 1466.9L935.0 1466.7L937.3 1466.0L939.8 1467.3L942.3 1467.1L945.0 1465.9L947.7 1467.6L950.6 1467.2L953.5 1467.8L956.6 1466.3L959.6 1467.1L962.8 1467.0L966.0 1466.9L969.2 1466.9L972.5 1467.3L975.9 1466.2L979.2 1466.3L982.6 1466.2L985.9 1466.6L989.3 1466.5L992.7 1467.0L996.0 1466.9L999.3 1466.8L1002.6 1466.5L1005.9 1466.6L1009.1 1467.2L1012.3 1467.1L1015.3 1466.9L1018.3 1466.7L1021.3 1467.5L1024.3 1466.6L1027.4 1467.2L1030.4 1467.4L1033.4 1466.8L1036.5 1467.3L1039.5 1466.5L1042.6 1467.4L1045.6 1467.1L1048.7 1466.3L1051.7 1467.3L1054.8 1466.7L1057.8 1467.7L1060.9 1466.8L1063.9 1467.0L1067.0 1467.3L1070.1 1467.0L1073.1 1467.3L1076.2 1466.9L1079.2 1467.5L1082.3 1467.2L1085.4 1467.3L1088.4 1466.0L1091.5 1467.8L1094.5 1467.3L1097.6 1466.5L1100.7 1467.4L1103.9 1467.6L1107.1 1467.9L1110.4 1466.9L1113.7 1468.1L1117.0 1467.4L1120.4 1468.6L1123.7 1467.4L1127.1 1467.8L1130.4 1467.4L1133.7 1467.1L1137.0 1468.1L1140.3 1468.0L1143.5 1468.3L1146.7 1468.0L1149.8 1467.4L1152.9 1466.9L1155.9 1467.4L1158.9 1467.4L1161.7 1467.3L1164.5 1467.9L1167.2 1467.8L1169.8 1467.5L1172.2 1467.7L1174.6 1467.6L1176.8 1467.7L1180.7 1467.9L1184.2 1468.1L1187.6 1467.4L1190.7 1467.0L1193.7 1468.3L1196.4 1467.6L1199.0 1467.8L1201.5 1466.1L1205.6 1464.9L1209.1 1462.8L1212.4 1461.2L1215.0 1462.9L1217.4 1465.6L1220.7 1467.7L1222.9 1468.5L1225.4 1467.7L1228.3 1467.6L1231.4 1468.5L1234.7 1468.6L1238.1 1468.1L1241.7 1467.3L1245.3 1467.9L1248.8 1467.7L1252.4 1467.4L1255.8 1466.7L1259.0 1466.9L1262.4 1467.1L1265.9 1466.5L1269.4 1466.0L1273.0 1467.0L1276.5 1467.1L1280.0 1466.9L1283.4 1467.3L1286.6 1466.4L1289.5 1466.4L1292.3 1465.9L1294.7 1465.6L1298.0 1464.6L1300.8 1462.3L1303.2 1461.1L1305.7 1458.9L1308.2 1456.3L1310.5 1453.4L1312.8 1451.4L1315.3 1449.7L1317.6 1450.5L1320.0 1452.4L1322.5 1455.3L1325.0 1457.9L1327.6 1458.8L1331.0 1458.5L1334.7 1457.0L1338.2 1455.3L1341.3 1452.7L1343.8 1451.0L1346.0 1448.1L1347.9 1445.2L1349.5 1442.1L1350.7 1439.1L1351.5 1435.9L1352.2 1432.5L1352.9 1429.1L1353.6 1425.6L1354.3 1422.3L1354.9 1418.7L1355.5 1415.0L1356.1 1411.6L1356.9 1408.7L1357.7 1406.5L1359.0 1404.3L1362.6 1405.0L1364.6 1409.2L1365.5 1411.7L1366.1 1414.8L1366.7 1418.3L1367.3 1421.8L1367.9 1425.3L1368.7 1428.4L1369.8 1432.1L1371.0 1435.7L1372.4 1439.0L1374.2 1442.1L1376.6 1444.5L1379.3 1447.1L1382.3 1449.3L1385.2 1451.5L1387.7 1454.0L1390.2 1456.0L1392.9 1458.0L1396.1 1459.5L1398.5 1459.9L1401.3 1461.6L1404.2 1462.5L1407.4 1462.4L1410.6 1462.2L1413.9 1461.6L1417.2 1463.1L1420.5 1463.8L1423.6 1463.6L1426.6 1464.1L1429.6 1464.6L1432.6 1464.6L1435.5 1464.0L1438.5 1464.8L1441.5 1464.7L1444.6 1463.7L1447.7 1464.3L1451.0 1464.0L1453.8 1464.6L1456.8 1465.1L1460.0 1464.5L1463.2 1464.2L1466.5 1465.8L1469.8 1465.5L1473.1 1466.1L1476.3 1465.0L1479.5 1466.1L1482.4 1466.5L1485.2 1466.4L1487.7 1465.3L1490.0 1465.3L1493.5 1464.7L1496.5 1464.5L1499.2 1463.7L1501.9 1462.2L1504.7 1459.9L1507.3 1457.9L1509.8 1455.4L1512.4 1455.0L1514.9 1455.9L1517.4 1458.7L1520.0 1461.5L1522.8 1462.9L1526.3 1463.9L1530.1 1464.4L1534.0 1462.8L1537.7 1462.4L1540.8 1461.6L1543.8 1460.3L1546.7 1458.3L1549.6 1455.9L1551.7 1454.1L1553.9 1451.9L1556.0 1449.2L1558.1 1446.8L1560.3 1443.9L1562.4 1442.6L1564.6 1441.6L1567.6 1440.6L1570.6 1442.0L1573.6 1444.0L1576.5 1445.7L1578.9 1447.8L1581.1 1450.3L1583.3 1452.8L1585.7 1455.6L1588.4 1457.5L1590.9 1459.0L1593.7 1460.7L1596.6 1461.6L1599.6 1463.0L1602.8 1464.5L1606.0 1464.6L1609.3 1465.1L1612.4 1465.9L1615.7 1465.7L1619.2 1466.5L1622.7 1465.4L1626.3 1466.2L1629.8 1465.4L1633.1 1465.0L1636.2 1465.6L1639.1 1463.9L1642.5 1463.8L1645.5 1461.7L1648.3 1460.2L1651.1 1457.9L1654.0 1458.2L1657.0 1458.7L1659.9 1459.0L1662.9 1460.5L1665.9 1462.9L1668.9 1463.2L1671.7 1463.8L1674.2 1464.5L1676.9 1465.7L1680.0 1466.3L1683.9 1466.8L1687.5 1467.8L1689.6 1467.0L1691.7 1467.5L1694.0 1468.1L1696.4 1467.1L1698.9 1468.0L1701.6 1468.4L1704.3 1467.0L1707.1 1467.2L1710.0 1467.2L1713.0 1466.8L1716.1 1467.9L1719.2 1466.8L1722.4 1467.8L1725.7 1468.2L1729.0 1466.8L1732.4 1467.3L1735.8 1466.5L1739.2 1467.7L1742.7 1466.9L1746.2 1467.1L1749.7 1467.2L1753.3 1467.3L1756.8 1466.9L1760.4 1467.0L1763.9 1466.7L1767.5 1466.9L1771.0 1466.3L1774.5 1466.8L1778.0 1465.9L1781.4 1466.5L1784.8 1467.6L1788.2 1466.7L1791.0 1466.1L1793.8 1466.8L1796.6 1466.3L1799.4 1466.0L1802.3 1466.4L1805.2 1467.1L1808.1 1466.9L1811.0 1466.7L1813.9 1466.4L1816.8 1466.3L1819.8 1467.4L1822.7 1466.9L1825.7 1466.4L1828.7 1465.9L1831.7 1466.2L1834.7 1468.0L1837.7 1466.4L1840.7 1466.9L1843.8 1467.0L1846.8 1466.8L1849.9 1466.8L1853.0 1466.3L1856.0 1466.5L1859.1 1467.7L1862.2 1466.6L1865.3 1467.4L1868.4 1466.3L1871.5 1466.9L1874.7 1467.2L1877.8 1467.5L1880.9 1466.6L1884.0 1467.4L1887.2 1467.3L1890.3 1466.8L1893.5 1467.3L1896.6 1466.7L1899.7 1466.8L1902.9 1467.2L1906.0 1466.0L1909.2 1467.2L1912.3 1466.8L1915.5 1466.6L1918.6 1467.0L1921.7 1467.6L1924.9 1467.1L1928.0 1467.8L1931.2 1466.8L1934.3 1466.7L1937.4 1468.0L1940.4 1467.5L1943.4 1467.7L1946.3 1467.0L1949.3 1467.7L1952.3 1467.5L1955.3 1467.6L1958.3 1467.4L1961.4 1467.9L1964.4 1467.1L1967.4 1466.9L1970.4 1466.7L1973.4 1467.9L1976.5 1467.1L1979.5 1466.9L1982.5 1467.0L1985.6 1467.2L1988.6 1466.8L1991.7 1467.3L1994.7 1467.1L1997.8 1467.2L2000.8 1467.0L2003.9 1467.5L2006.9 1467.2L2010.0 1467.5L2013.1 1467.6L2016.1 1467.6L2019.2 1466.5L2022.3 1467.2L2025.3 1467.1L2028.4 1467.8L2031.5 1466.8L2034.5 1467.2L2037.6 1467.4L2040.7 1467.4L2043.8 1468.0L2046.8 1467.3L2049.9 1468.0L2053.0 1466.9L2056.1 1466.7L2059.1 1468.1L2062.2 1467.7L2065.3 1467.8L2068.3 1467.6L2071.4 1467.8L2074.5 1467.0L2077.5 1468.0L2080.6 1467.3L2083.7 1468.0L2086.7 1467.6L2089.8 1466.7L2092.8 1467.0L2095.9 1468.1L2099.0 1467.5L2102.0 1467.6" fill="none" stroke="#0000ff" stroke-width="10.4" stroke-linejoin="round" stroke-linecap="butt"/>
<path d="M274.6 417.5L277.0 418.1L279.0 419.5L281.0 420.9L283.2 424.3L285.5 427.6L287.7 428.9L290.0 430.6L292.0 431.9L294.0 434.6L295.3 436.6L296.7 439.3L298.1 442.2L299.4 445.2L300.8 448.0L302.2 450.7L303.5 453.4L304.9 456.2L306.2 458.9L307.6 461.6L309.0 464.3L310.4 467.0L311.8 469.7L313.1 472.5L314.4 475.2L315.7 478.6L316.8 482.2L318.0 485.6L319.5 488.8L321.4 491.5L323.7 494.5L325.9 496.3L328.0 499.0L329.5 501.6L330.9 504.4L332.1 507.3L333.4 510.1L334.8 512.7L336.4 515.6L338.1 518.5L339.8 521.3L341.6 522.8L344.1 524.3L346.7 524.1L350.2 523.1L353.5 519.2L355.4 517.0L357.1 514.0L358.7 510.9L360.3 507.6L361.7 504.7L363.2 501.7L364.5 498.6L365.9 495.4L367.1 492.2L368.2 488.9L369.3 485.4L370.2 482.0L371.2 478.6L372.2 475.2L373.2 471.9L374.1 468.5L375.1 465.2L376.2 462.3L377.3 459.9L379.2 457.4L381.1 455.5L383.2 457.7L385.0 461.6L385.9 464.5L386.5 467.8L387.1 471.4L387.6 475.2L388.0 478.2L388.4 481.4L388.8 484.7L389.1 488.1L389.4 491.7L389.8 495.3L390.1 499.0L390.4 501.9L390.6 504.8L390.8 507.9L391.1 510.9L391.3 514.1L391.5 517.3L391.8 520.4L392.0 523.6L392.2 526.8L392.5 530.0L392.7 533.1L392.9 536.2L393.2 539.3L393.4 542.4L393.6 545.5L393.8 548.6L394.1 551.6L394.3 554.7L394.5 557.8L394.7 560.9L395.0 564.0L395.2 567.1L395.4 570.2L395.7 573.3L395.9 576.4L396.1 579.5L396.3 582.6L396.6 585.6L396.8 588.7L397.0 591.8L397.3 594.9L397.5 598.0L397.8 601.1L398.1 604.2L398.4 607.3L398.6 610.4L398.9 613.5L399.2 616.6L399.6 619.7L399.9 622.7L400.2 625.8L400.5 628.9L400.9 632.0L401.2 635.1L401.6 638.2L401.9 641.4L402.3 644.6L402.7 647.8L403.1 651.0L403.5 654.1L403.9 657.3L404.3 660.3L404.7 663.4L405.1 666.3L405.4 669.1L405.8 672.5L406.1 675.8L406.5 678.9L406.8 682.0L407.1 685.1L407.4 688.2L407.8 691.4L408.2 694.4L408.5 697.4L408.9 700.4L409.3 703.4L409.7 706.4L410.2 709.4L410.6 712.3L411.0 715.2L411.5 718.5L411.9 721.8L412.4 725.0L412.9 728.1L413.5 731.2L414.1 734.3L414.8 737.3L415.6 740.2L416.4 743.1L417.2 745.9L418.1 748.8L418.9 751.7L419.7 754.7L420.4 757.7L421.1 760.7L421.8 763.7L422.7 766.6L423.7 769.2L425.3 772.2L427.1 774.8L429.0 777.4L430.8 780.3L432.4 783.4L434.0 786.6L435.5 789.8L437.1 793.0L438.6 796.4L440.1 800.0L441.7 803.3L443.5 805.7L446.5 807.7L449.8 809.1L453.8 808.4L457.8 810.6L460.6 812.7L463.2 815.6L465.7 818.1L467.8 820.8L469.8 823.2L472.1 825.9L475.9 826.3L480.0 826.3L483.1 826.2L486.3 828.6L489.5 829.0L492.7 828.2L495.9 827.3L499.0 826.6L502.2 824.6L505.4 822.2L508.6 821.1L512.7 820.9L516.5 821.6L519.8 819.6L522.9 817.0L525.5 814.8L528.3 812.8L530.8 810.5L532.9 807.3L534.8 803.9L537.1 801.2L541.0 799.6L545.1 798.9L547.5 796.3L550.0 793.1L552.3 791.0L554.6 788.4L556.6 785.9L558.6 783.1L560.5 780.6L562.5 778.1L565.7 777.8L568.9 778.0L571.2 775.7L573.2 772.3L575.2 769.2L577.3 766.5L579.5 763.9L581.6 761.3L583.7 758.5L585.7 755.5L587.9 753.7L591.0 751.5L594.3 749.3L597.4 750.5L600.6 750.5L603.0 749.0L605.4 746.5L607.9 743.8L610.2 743.3L613.3 745.4L616.5 746.5L619.5 746.8L622.8 744.2L626.2 741.7L629.2 741.0L632.4 741.8L635.6 743.6L639.2 744.5L643.1 744.9L646.7 745.5L649.9 744.1L653.0 743.4L656.9 743.4L661.0 747.5L664.1 747.6L667.4 745.9L670.5 746.6L673.2 748.2L675.7 750.6L678.4 751.6L681.0 750.7L683.9 748.3L686.7 746.2L689.5 744.6L693.6 744.7L697.9 743.9L700.9 743.1L704.1 741.0L707.5 739.0L710.8 736.5L713.7 736.7L716.4 738.3L718.9 740.8L721.2 743.2L723.5 744.1L726.3 742.3L728.9 738.7L731.4 737.4L734.3 738.9L737.3 741.0L739.7 740.3L742.3 737.5L744.8 734.4L747.2 733.1L750.2 736.0L753.1 738.9L755.6 736.0L758.2 731.8L761.0 729.9L763.1 729.9L765.3 732.6L767.7 735.5L770.1 738.3L772.8 740.0L775.8 741.6L779.0 742.1L782.3 743.1L785.6 743.0L788.6 745.0L791.7 745.3L794.7 747.9L797.5 749.9L800.5 751.8L804.5 751.6L808.6 752.4L812.3 753.1L814.5 755.7L816.4 758.9L818.1 762.5L820.0 765.8L822.1 767.6L825.2 769.7L828.6 770.2L832.0 770.0L835.0 770.4L838.0 772.4L841.0 774.2L844.0 775.8L846.7 777.4L849.4 778.6L852.0 781.2L854.7 784.2L857.3 785.6L859.9 788.8L862.5 791.6L865.1 794.0L867.8 796.6L870.7 797.8L873.8 798.2L877.1 799.2L880.4 799.3L883.7 799.7L886.7 801.0L889.4 802.6L891.9 805.4L894.2 808.3L896.6 810.7L899.1 813.4L902.9 813.0L906.9 812.3L910.7 812.6L912.8 814.1L914.8 816.8L916.6 819.5L918.5 822.1L920.5 824.5L922.7 826.1L926.0 826.5L929.6 827.1L933.2 825.2L936.5 826.5L939.2 827.8L941.6 829.5L943.9 832.0L946.4 833.0L949.6 832.7L953.0 830.5L956.3 830.4L958.6 830.6L960.8 833.0L963.1 835.9L965.4 838.6L967.7 841.0L970.1 842.8L972.8 845.3L975.7 845.7L978.6 847.8L981.3 849.7L983.9 850.3L987.9 848.3L991.8 846.8L995.0 849.9L998.3 851.5L1001.6 852.4L1004.9 852.8L1008.2 852.6L1011.5 850.4L1014.9 853.5L1018.2 855.0L1021.4 856.0L1023.9 859.1L1026.2 860.9L1028.5 864.0L1031.2 865.9L1034.4 868.4L1037.9 868.1L1041.5 869.5L1045.0 871.2L1048.5 871.4L1052.0 872.4L1055.5 873.8L1058.8 875.5L1061.9 877.4L1064.8 880.6L1067.7 883.1L1070.7 884.4L1074.6 885.1L1078.7 882.6L1082.5 883.2L1086.0 883.7L1089.2 886.7L1092.4 887.5L1095.9 889.7L1099.8 890.6L1102.4 891.3L1105.3 892.1L1108.6 893.3L1112.0 894.3L1115.5 894.6L1118.8 896.6L1121.9 897.7L1124.9 898.8L1127.7 899.7L1130.5 901.4L1133.3 903.0L1136.1 903.5L1139.1 904.2L1142.0 906.0L1145.0 906.3L1148.1 906.8L1151.2 907.3L1154.3 906.9L1157.3 907.4L1160.2 908.6L1163.5 908.3L1166.6 909.3L1169.7 910.3L1172.8 911.0L1175.9 911.3L1179.2 912.9L1182.6 913.0L1186.0 914.4L1189.5 915.4L1193.0 915.9L1196.3 916.5L1199.8 915.9L1203.2 916.3L1206.7 917.2L1210.2 918.3L1213.6 919.4L1216.8 918.4L1219.9 919.9L1223.1 919.9L1226.2 920.5L1229.1 921.2L1232.0 921.9L1235.3 921.3L1238.5 921.1L1241.5 919.1L1244.6 920.0L1247.6 920.6L1250.6 921.1L1253.7 922.4L1256.8 922.5L1260.3 922.1L1264.0 922.0L1267.7 921.3L1271.5 923.2L1274.5 921.4L1277.6 923.1L1280.7 922.9L1283.9 923.6L1287.0 924.4L1290.0 924.0L1293.3 925.6L1296.6 925.8L1299.9 925.3L1303.0 926.8L1305.9 926.8L1309.2 926.1L1312.3 925.6L1315.7 923.8L1318.6 924.2L1322.0 924.5L1325.5 923.8L1329.0 925.5L1332.3 924.4L1335.3 925.1L1338.9 927.1L1342.0 927.4L1345.2 928.4L1348.5 926.6L1351.8 925.8L1355.0 924.3L1357.9 926.3L1360.7 927.6L1364.0 930.2L1366.9 930.4L1370.1 930.8L1373.5 930.8L1377.1 930.9L1380.8 930.0L1384.4 929.5L1387.4 931.3L1390.4 931.0L1393.4 931.6L1396.5 932.4L1399.6 931.4L1402.7 932.4L1405.8 932.9L1408.9 933.0L1412.0 934.2L1415.2 934.3L1418.3 934.4L1421.5 934.7L1424.6 936.2L1427.7 935.7L1430.6 936.7L1433.5 936.8L1437.2 935.3L1440.7 935.4L1444.1 935.7L1447.4 935.6L1450.6 936.0L1453.8 936.5L1456.7 937.6L1459.7 937.7L1462.9 938.4L1466.1 939.1L1469.5 938.2L1473.0 938.8L1476.7 936.9L1480.5 938.1L1483.6 937.6L1486.8 936.6L1490.2 938.5L1493.7 938.3L1497.1 938.3L1500.5 937.9L1503.8 938.5L1507.0 939.9L1510.5 938.9L1513.8 937.8L1517.1 939.9L1520.3 940.2L1523.5 941.2L1526.7 941.3L1530.2 940.9L1533.5 940.7L1536.9 941.5L1540.3 939.7L1543.9 941.7L1546.8 940.3L1549.8 940.2L1552.9 941.7L1556.0 941.9L1559.2 941.4L1562.4 942.8L1565.4 941.5L1568.4 942.2L1571.9 943.5L1575.4 942.6L1578.8 941.8L1582.1 942.7L1585.2 942.9L1588.0 942.5L1591.5 942.3L1594.5 944.1L1597.5 944.7L1600.4 943.4L1603.2 941.7L1606.0 939.6L1608.8 940.9L1611.6 943.5L1615.0 946.1L1617.4 945.5L1620.2 947.2L1623.2 944.9L1626.3 947.0L1629.7 946.0L1633.1 946.6L1636.5 946.7L1640.0 945.6L1642.9 946.3L1645.8 946.5L1648.8 946.8L1651.9 945.9L1655.1 945.9L1658.3 945.4L1661.5 948.1L1664.7 946.5L1667.9 946.5L1671.2 945.8L1674.4 947.3L1677.5 946.5L1680.6 947.7L1683.7 947.5L1686.7 947.1L1689.8 947.6L1692.9 946.7L1695.9 947.2L1699.0 947.2L1702.1 946.9L1705.2 947.8L1708.4 947.9L1711.7 948.9L1715.0 946.2L1717.9 947.9L1721.0 947.9L1724.0 948.3L1727.2 948.9L1730.4 949.0L1733.6 948.9L1736.8 948.7L1740.1 949.4L1743.3 949.5L1746.5 948.3L1749.7 949.3L1752.9 948.7L1756.0 948.9L1759.1 949.8L1762.1 949.8L1765.0 949.9L1768.5 949.3L1771.9 949.7L1775.2 949.2L1778.4 949.9L1781.6 950.1L1784.8 950.6L1788.0 950.3L1791.2 949.0L1794.4 949.2L1797.6 948.9L1800.9 949.7L1803.9 950.8L1806.9 950.1L1810.0 948.5L1813.1 949.3L1816.2 949.5L1819.3 950.8L1822.4 950.7L1825.5 951.0L1828.6 952.1L1831.5 950.7L1834.4 950.8L1837.3 952.6L1840.0 951.7L1843.3 951.0L1846.5 950.2L1849.5 950.4L1852.4 949.7L1855.4 951.1L1858.4 950.9L1861.6 951.4L1865.0 950.7L1867.7 950.4L1870.5 950.4L1873.5 952.1L1876.5 950.0L1879.6 951.2L1882.8 951.2L1886.0 951.7L1889.2 951.2L1892.4 951.9L1895.5 952.2L1898.7 951.7L1901.7 951.7L1904.7 951.9L1907.6 951.5L1911.0 952.0L1914.4 952.0L1917.8 952.3L1921.1 953.0L1924.3 953.0L1927.6 951.9L1930.7 952.6L1933.9 952.5L1937.0 952.8L1940.0 952.5L1943.2 952.9L1946.3 952.7L1949.3 952.8L1952.2 954.1L1955.2 954.7L1958.3 954.7L1961.5 954.8L1965.0 955.0L1967.6 954.7L1970.3 954.0L1973.1 955.5L1975.9 955.3L1978.8 954.9L1981.8 954.7L1984.8 956.1L1987.9 954.2L1991.0 956.4L1994.1 955.7L1997.3 956.8L2000.4 955.0L2003.6 955.4L2006.8 955.2L2010.0 955.6L2012.9 955.4L2015.9 955.1L2019.1 956.2L2022.3 955.1L2025.6 955.3L2028.9 955.9L2032.2 955.2L2035.6 955.3L2038.9 955.8L2042.2 955.3L2045.5 954.8L2048.7 955.6L2051.8 955.5L2054.8 956.7L2057.8 955.1L2060.5 956.5L2063.1 955.6L2065.6 956.0L2067.8 956.2L2071.9 957.1L2075.4 958.0L2078.6 959.2L2081.7 958.5L2085.0 960.3L2088.4 960.6L2091.8 961.0L2095.2 960.6L2098.6 962.0L2102.0 962.0" fill="none" stroke="#ff0000" stroke-width="10.8" stroke-linejoin="round" stroke-linecap="butt"/>
<text x="414.7" y="1642.5" text-anchor="middle" class="tl" textLength="93" lengthAdjust="spacingAndGlyphs">10</text>
<text x="695.8" y="1642.5" text-anchor="middle" class="tl" textLength="93" lengthAdjust="spacingAndGlyphs">20</text>
<text x="977.0" y="1642.5" text-anchor="middle" class="tl" textLength="93" lengthAdjust="spacingAndGlyphs">30</text>
<text x="1258.1" y="1642.5" text-anchor="middle" class="tl" textLength="93" lengthAdjust="spacingAndGlyphs">40</text>
<text x="1539.3" y="1642.5" text-anchor="middle" class="tl" textLength="93" lengthAdjust="spacingAndGlyphs">50</text>
<text x="1820.4" y="1642.5" text-anchor="middle" class="tl" textLength="93" lengthAdjust="spacingAndGlyphs">60</text>
<text x="2101.6" y="1642.5" text-anchor="middle" class="tl" textLength="93" lengthAdjust="spacingAndGlyphs">70</text>
<text x="625.5" y="1825.5" class="ttl">Diffraction angle (2&#952;)</text>
<text transform="translate(145.5 1137.5) rotate(-90)" x="0" y="0" class="ttl" style="font-size:124px" textLength="766.8" lengthAdjust="spacingAndGlyphs">Intensity (a.u.)</text>
<text x="2084.1" y="607" text-anchor="end" class="lg" fill="#000" textLength="298.8" lengthAdjust="spacingAndGlyphs">Graphite</text>
<text x="2085.3" y="919.5" text-anchor="end" class="lg" fill="#ff0000">GO</text>
<text x="2081.9" y="1148.8" text-anchor="end" class="lg" fill="#008000" textLength="358.4" lengthAdjust="spacingAndGlyphs">GO-PDDA</text>
<text x="2083.1" y="1436.3" text-anchor="end" class="lg" fill="#0000ff">AMG</text>
</svg>
</body></html>
